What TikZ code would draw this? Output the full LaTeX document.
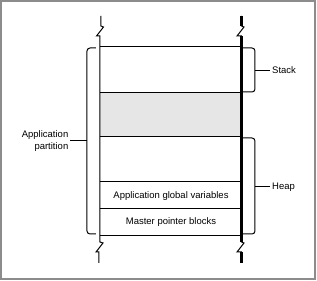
\documentclass[tikz,border=0pt]{standalone}
\usepackage{fontspec}
\setmainfont{Liberation Sans}
\definecolor{frame-gray}{HTML}{8C8C8C}
\definecolor{band-gray}{HTML}{E6E6E6}

\begin{document}
\begin{tikzpicture}[x=1pt, y=-1pt,
        every node/.style={font=\fontsize{9.5}{12}\selectfont, inner sep=1.5pt},
        thin line/.style={line width=1pt},
        brace/.style={line width=1pt, rounded corners=3pt}]
      \useasboundingbox (0,0) rectangle (317,281);
      \draw[frame-gray, line width=2pt] (1,1) rectangle (315.5,279);
      % shaded free area
      \fill[band-gray] (100,93) rectangle (242,137);
      \foreach \y in {47,93,137,182,209,236}
        \draw[thin line] (100,\y) -- (242,\y);
      % left edge with breaks
      \draw[thin line] (101,16) -- (101,26) -- (103.5,27) -- (96.5,36) -- (100,36) -- (100,242)
            -- (103,243) -- (96,252) -- (99,252) -- (99,263);
      % right edge with breaks
      \draw[thin line] (241.5,16) -- (241.5,26) -- (244,27) -- (237,36) -- (241.5,36) -- (241.5,242)
            -- (244,243) -- (237,252) -- (241.5,252) -- (241.5,263);
      \draw[line width=2.4pt] (241.5,16) -- (241.5,26);
      \draw[line width=2.4pt] (241.5,36) -- (241.5,242);
      \draw[line width=2.4pt] (241.5,252) -- (241.5,263);
      \node (globals) at (171,196) {Application global variables};
      \node (masters) at (171,222.5) {Master pointer blocks};
      % brackets
      \node[anchor=east, align=right] (partition) at (70,141) {Application\\partition};
      \node[anchor=west] (stack) at (270.5,70.5) {Stack};
      \node[anchor=west] (heap) at (270.5,187) {Heap};
      \coordinate (partmid) at (87,141);
      \coordinate (stackmid) at (255,70.5);
      \coordinate (heapmid) at (255,187);
      \draw[brace] (96,48) -- (87,48) -- (87,234) -- (96,234);
      \draw[brace] (243,48) -- (255,48) -- (255,92) -- (243,92);
      \draw[brace] (243,138) -- (255,138) -- (255,234) -- (243,234);
      \draw[thin line] (partmid) -- (partition);
      \draw[thin line] (stackmid) -- (stack);
      \draw[thin line] (heapmid) -- (heap);
    \end{tikzpicture}
\end{document}
